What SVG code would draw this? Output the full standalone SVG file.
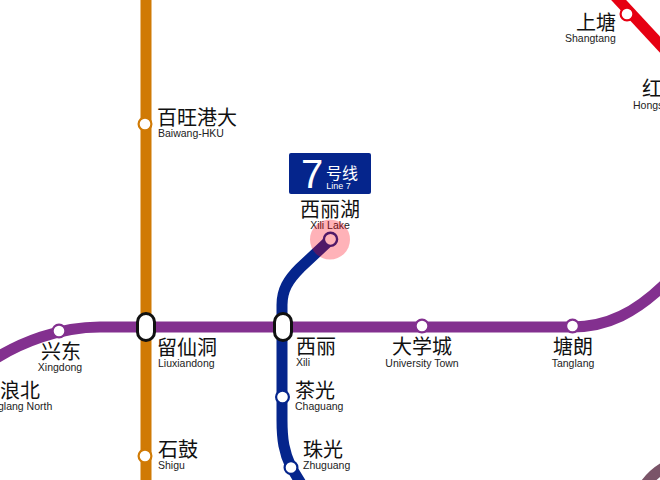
<svg xmlns="http://www.w3.org/2000/svg" width="660" height="480" viewBox="0 0 660 480">
<style>
.ln{fill:none;stroke-width:11}
.cn{font-family:"Noto Sans CJK SC","Liberation Sans",sans-serif;font-size:20px;fill:#111}
.en{font-family:"Liberation Sans",Arial,sans-serif;font-size:10.500px;fill:#222}
.m{text-anchor:middle}
.st{fill:#fff;stroke-width:2.200}
.ic{fill:#fff;stroke:#111;stroke-width:3}
</style>
<rect width="660" height="480" fill="#fff"/>
<g id="connectors">
<path class="ln" stroke="#d07a05" d="M146 0V480"/>
<path class="ln" stroke="#83308f" d="M-10 362C20 342 60 327 100 327H572C608 327 636 312 665 284"/>
<path class="ln" stroke="#05258c" d="M331 239L300 268C288 280 282 290 282 305V420C282 440 284 452 291 467L305 490"/>
<path class="ln" stroke="#e60012" d="M614 -5L665 50"/>
<path class="ln" stroke="#7a5468" d="M645 485C650 478 656 472 665 467"/>
</g>
<g id="line7-badge">
<rect x="289" y="153" width="82" height="41" rx="2" fill="#05258c"/>
<text x="312" y="188" text-anchor="middle" font-family="Liberation Sans,sans-serif" font-size="40" fill="#fff">7</text>
<text x="342" y="179" text-anchor="middle" font-family="Noto Sans CJK SC,sans-serif" font-size="16" fill="#fff">号线</text>
<text x="338.500" y="189" text-anchor="middle" font-family="Liberation Sans,sans-serif" font-size="9" fill="#fff">Line 7</text>
</g>
<g id="st-xililake">
<circle class="st" stroke="#05258c" cx="330.500" cy="239.300" r="6.600" style="stroke-width:2.400"/>
<text class="cn m" x="330" y="217">西丽湖</text>
<text class="en m" x="330" y="229">Xili Lake</text>
<circle cx="330" cy="239.500" r="20" fill="#ff0014" fill-opacity=".3"/>
</g>
<g id="st-baiwang">
<circle class="st" stroke="#d07a05" cx="145" cy="124" r="6.400"/>
<text class="cn" x="157" y="125">百旺港大</text>
<text class="en" x="158" y="137">Baiwang-HKU</text>
</g>
<g id="st-shangtang">
<circle class="st" stroke="#e60012" cx="627" cy="14" r="6.400"/>
<text class="cn" x="576" y="30">上塘</text>
<text class="en" x="565" y="42">Shangtang</text>
</g>
<g id="st-hongs">
<text class="cn" x="642" y="96">红</text>
<text class="en" x="633" y="109">Hongs</text>
</g>
<g id="st-xingdong">
<circle class="st" stroke="#83308f" cx="59" cy="331" r="6.400"/>
<text class="cn m" x="61" y="359">兴东</text>
<text class="en m" x="60" y="371">Xingdong</text>
</g>
<g id="st-langbei">
<text class="cn" x="0" y="398">浪北</text>
<text class="en" x="-2" y="410">glang North</text>
</g>
<g id="st-liuxiandong">
<rect class="ic" x="137.500" y="313.500" width="17" height="27" rx="8.500"/>
<text class="cn" x="157" y="355">留仙洞</text>
<text class="en" x="158" y="367">Liuxiandong</text>
</g>
<g id="st-shigu">
<circle class="st" stroke="#d07a05" cx="145" cy="456" r="6.400"/>
<text class="cn" x="158" y="457">石鼓</text>
<text class="en" x="158" y="469">Shigu</text>
</g>
<g id="st-xili">
<rect class="ic" x="274.500" y="313.500" width="17" height="27" rx="8.500"/>
<text class="cn" x="296" y="354">西丽</text>
<text class="en" x="296" y="366">Xili</text>
</g>
<g id="st-chaguang">
<circle class="st" stroke="#05258c" cx="282.500" cy="397" r="6.400"/>
<text class="cn" x="295" y="398">茶光</text>
<text class="en" x="295" y="410">Chaguang</text>
</g>
<g id="st-zhuguang">
<circle class="st" stroke="#05258c" cx="291" cy="467.500" r="6.400"/>
<text class="cn" x="303" y="457">珠光</text>
<text class="en" x="303" y="469">Zhuguang</text>
</g>
<g id="st-universitytown">
<circle class="st" stroke="#83308f" cx="422" cy="326" r="6.400"/>
<text class="cn m" x="422" y="354">大学城</text>
<text class="en m" x="422" y="367">University Town</text>
</g>
<g id="st-tanglang">
<circle class="st" stroke="#83308f" cx="572.500" cy="326" r="6.400"/>
<text class="cn m" x="573" y="354">塘朗</text>
<text class="en m" x="573" y="367">Tanglang</text>
</g>
</svg>
